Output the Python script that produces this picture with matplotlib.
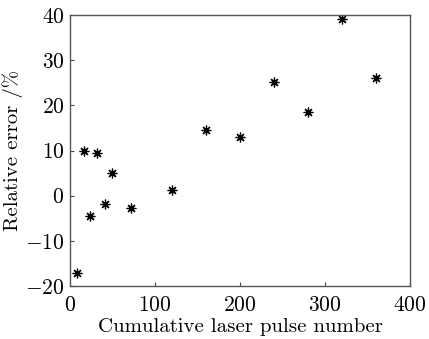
import numpy as np
import matplotlib
matplotlib.use('Agg')
import matplotlib.pyplot as plt

# pulse number vs relative error
pulses = [8, 17, 24, 32, 41, 50, 72, 120, 160, 200, 240, 280, 320, 360]
rel_err = [-17.2, 9.9, -4.5, 9.4, -1.9, 5.1, -2.8, 1.2, 14.5, 13.0, 25.1, 18.6, 39.2, 26.0]

x_ticks = [0, 100, 200, 300, 400]
y_ticks = [-20, -10, 0, 10, 20, 30, 40]

plt.rcParams['font.family'] = 'cmr10'
plt.rcParams['mathtext.fontset'] = 'cm'
plt.rcParams['axes.formatter.use_mathtext'] = True

fig = plt.figure(figsize=(4.29, 3.39), dpi=100)
ax = fig.add_axes([0.163, 0.156, 0.793, 0.80])
ax.plot(pulses, rel_err, linestyle='none', marker=(8, 2, 0), markersize=7,
        markeredgewidth=0.9, color='black')
ax.plot(pulses, rel_err, linestyle='none', marker='o', markersize=2, color='black')

ax.set_xlim(0, 400)
ax.set_ylim(-20, 40)
ax.set_xticks(x_ticks)
ax.set_yticks(y_ticks)
ax.tick_params(direction='in', length=3, width=0.8, labelsize=15.5, color='#444444',
               top=False, right=False)
ax.tick_params(axis='x', pad=7)
ax.tick_params(axis='y', pad=4)
for s in ax.spines.values():
    s.set_color('#555555')
    s.set_linewidth(1.0)
ax.set_xlabel('Cumulative laser pulse number', fontsize=15, labelpad=2)
ax.set_ylabel('Relative error /%', fontsize=15, labelpad=1)

fig.savefig('out.png', dpi=100)
